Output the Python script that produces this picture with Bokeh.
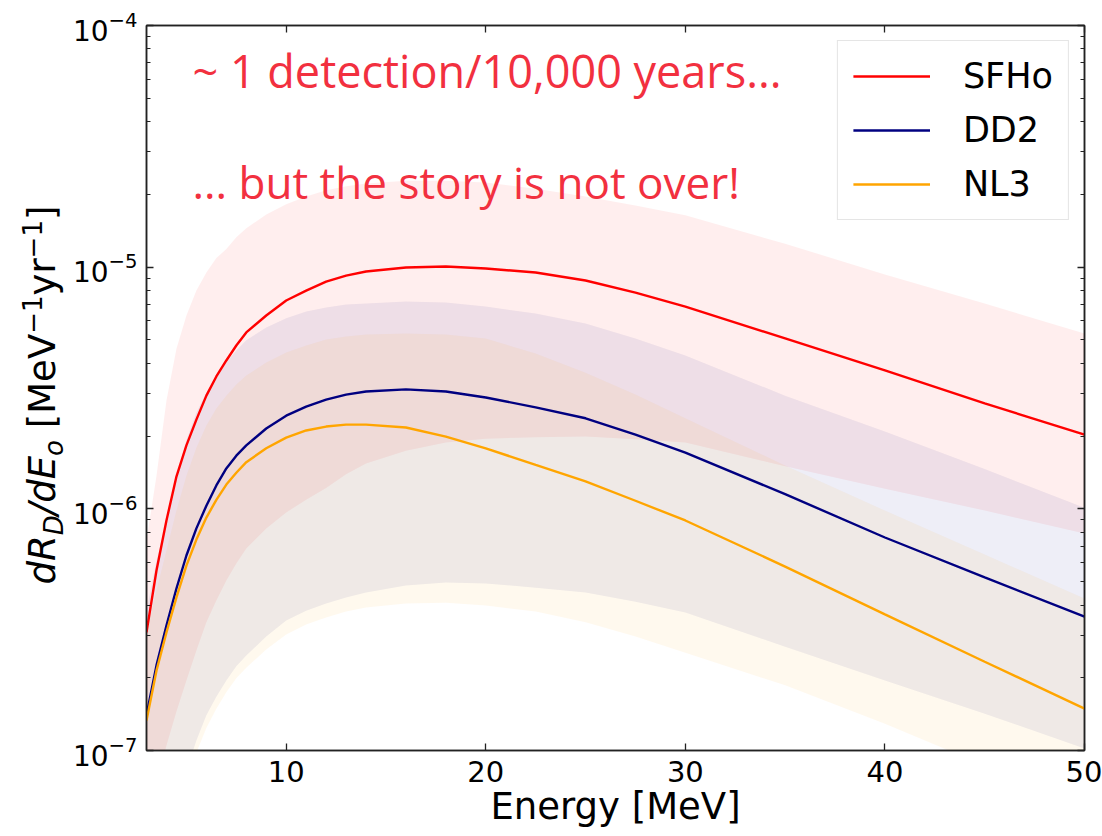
import numpy as np
from bokeh.plotting import figure
from bokeh.layouts import row
from bokeh.core.properties import value
from bokeh.models import (Range1d, FixedTicker, LogTickFormatter, LogAxis, LinearAxis,
                          Label, Legend, LegendItem, CustomJSTickFormatter)
from bokeh.embed import file_html
from bokeh.resources import INLINE

# ---------------- data ----------------
energy = [3, 3.5, 4, 4.5, 5, 5.5, 6, 6.5, 7, 7.5, 8, 9, 10, 11, 12, 13, 14, 16, 18, 20,
          22.5, 25, 27.5, 30, 35, 40, 45, 50]

sfho = [3.08e-7, 5.56e-7, 8.95e-7, 1.36e-6, 1.83e-6, 2.34e-6, 2.94e-6, 3.53e-6, 4.11e-6, 4.74e-6,
        5.37e-6, 6.31e-6, 7.28e-6, 8.0e-6, 8.72e-6, 9.23e-6, 9.60e-6, 9.97e-6, 1.007e-5, 9.87e-6,
        9.50e-6, 8.81e-6, 7.85e-6, 6.87e-6, 5.07e-6, 3.74e-6, 2.73e-6, 2.03e-6]
sfho_hi = [7.4e-7, 1.37e-6, 2.81e-6, 4.6e-6, 6.31e-6, 8.0e-6, 9.5e-6, 1.09e-5, 1.19e-5, 1.33e-5,
           1.45e-5, 1.65e-5, 1.82e-5, 1.96e-5, 2.08e-5, 2.16e-5, 2.22e-5, 2.28e-5, 2.28e-5, 2.24e-5,
           2.11e-5, 1.96e-5, 1.80e-5, 1.64e-5, 1.25e-5, 9.33e-6, 7.08e-6, 5.31e-6]
sfho_lo = [5.1e-8, 7.2e-8, 1.05e-7, 1.45e-7, 1.95e-7, 2.59e-7, 3.39e-7, 4.18e-7, 5.05e-7, 5.94e-7,
           6.85e-7, 8.3e-7, 9.66e-7, 1.09e-6, 1.22e-6, 1.39e-6, 1.54e-6, 1.74e-6, 1.88e-6, 1.95e-6,
           1.98e-6, 1.99e-6, 1.94e-6, 1.88e-6, 1.50e-6, 1.21e-6, 9.84e-7, 7.9e-7]

dd2 = [1.40e-7, 2.25e-7, 3.29e-7, 4.68e-7, 6.41e-7, 8.3e-7, 1.03e-6, 1.25e-6, 1.47e-6, 1.66e-6,
       1.83e-6, 2.15e-6, 2.43e-6, 2.65e-6, 2.83e-6, 2.97e-6, 3.06e-6, 3.12e-6, 3.06e-6, 2.89e-6,
       2.63e-6, 2.37e-6, 2.03e-6, 1.71e-6, 1.15e-6, 7.61e-7, 5.20e-7, 3.58e-7]
dd2_hi = [3.79e-7, 6.1e-7, 8.95e-7, 1.36e-6, 1.92e-6, 2.5e-6, 3.03e-6, 3.56e-6, 4.04e-6, 4.52e-6,
          4.98e-6, 5.63e-6, 6.14e-6, 6.56e-6, 6.81e-6, 7.0e-6, 7.08e-6, 7.21e-6, 7.14e-6, 6.87e-6,
          6.43e-6, 5.85e-6, 5.07e-6, 4.31e-6, 2.94e-6, 2.09e-6, 1.46e-6, 1.01e-6]
dd2_lo = [1.49e-8, 2.9e-8, 4.67e-8, 6.3e-8, 8.26e-8, 1.10e-7, 1.40e-7, 1.67e-7, 1.95e-7, 2.23e-7,
          2.47e-7, 2.96e-7, 3.45e-7, 3.79e-7, 4.06e-7, 4.3e-7, 4.51e-7, 4.82e-7, 4.96e-7, 4.91e-7,
          4.72e-7, 4.51e-7, 4.13e-7, 3.72e-7, 2.69e-7, 1.95e-7, 1.42e-7, 1.02e-7]

nl3 = [1.33e-7, 2.14e-7, 3.08e-7, 4.3e-7, 5.82e-7, 7.46e-7, 9.20e-7, 1.09e-6, 1.26e-6, 1.41e-6,
       1.56e-6, 1.78e-6, 1.97e-6, 2.11e-6, 2.19e-6, 2.23e-6, 2.23e-6, 2.17e-6, 1.99e-6, 1.78e-6,
       1.52e-6, 1.30e-6, 1.08e-6, 8.95e-7, 5.77e-7, 3.66e-7, 2.33e-7, 1.49e-7]
nl3_hi = [3.1e-7, 4.59e-7, 6.72e-7, 9.84e-7, 1.37e-6, 1.79e-6, 2.21e-6, 2.6e-6, 2.94e-6, 3.27e-6,
          3.56e-6, 4.03e-6, 4.43e-6, 4.74e-6, 5.02e-6, 5.16e-6, 5.26e-6, 5.31e-6, 5.26e-6, 5.07e-6,
          4.39e-6, 3.66e-6, 2.97e-6, 2.37e-6, 1.51e-6, 9.84e-7, 6.47e-7, 4.26e-7]
nl3_lo = [1.35e-8, 2.64e-8, 4.24e-8, 5.75e-8, 7.52e-8, 9.8e-8, 1.24e-7, 1.49e-7, 1.74e-7, 1.99e-7,
          2.20e-7, 2.62e-7, 3.02e-7, 3.32e-7, 3.55e-7, 3.76e-7, 3.91e-7, 4.06e-7, 4.09e-7, 3.98e-7,
          3.76e-7, 3.39e-7, 2.96e-7, 2.54e-7, 1.86e-7, 1.29e-7, 8.67e-8, 5.65e-8]

model_names = ["SFHo", "DD2", "NL3"]
model_colors = ["#ff0000", "#000080", "#ffa500"]

x_ticks = [10, 20, 30, 40, 50]
y_ticks = [1e-7, 1e-6, 1e-5, 1e-4]
y_minor = [m * 10.0 ** e for e in (-7, -6, -5) for m in range(2, 10)]

note1 = "~ 1 detection/10,000 years..."
note2 = "... but the story is not over!"
note_color = "#f2303f"

LAB_W = 68          # width of the strip holding the y-axis title
FRAME_LEFT = 146
FRAME_TOP = 25
FRAME_BOTTOM = 750
H = 836

# ---------------- main figure ----------------
p = figure(width=1102 - LAB_W, height=H, x_range=Range1d(3, 50), y_range=Range1d(1e-7, 1e-4),
           y_axis_type="log", output_backend="svg", toolbar_location=None,
           min_border_left=FRAME_LEFT - LAB_W, min_border_right=18, min_border_top=FRAME_TOP,
           min_border_bottom=H - FRAME_BOTTOM)
p.grid.visible = False
p.background_fill_color = "white"
p.border_fill_color = "white"
p.outline_line_color = "#222222"
p.outline_line_width = 1.5

bands = [(sfho_lo, sfho_hi), (dd2_lo, dd2_hi), (nl3_lo, nl3_hi)]
centrals = [sfho, dd2, nl3]
for (lo, hi), c in zip(bands, model_colors):
    p.varea(x=energy, y1=lo, y2=hi, fill_color=c, fill_alpha=0.065)

renderers = []
for vals, c in zip(centrals, model_colors):
    renderers.append(p.line(energy, vals, line_color=c, line_width=2.4))


def style_axis(ax):
    ax.major_tick_in = 7
    ax.major_tick_out = 0
    ax.minor_tick_in = 4
    ax.minor_tick_out = 0
    ax.axis_line_color = "#222222"
    ax.axis_line_width = 1.5
    ax.major_tick_line_color = "#222222"
    ax.major_tick_line_width = 1.3
    ax.minor_tick_line_color = "#222222"
    ax.minor_tick_line_width = 1.1
    ax.major_label_text_font = "DejaVu Sans"
    ax.major_label_text_font_size = "29px"
    ax.major_label_text_color = "black"


xt = FixedTicker(ticks=x_ticks, minor_ticks=[])
yt = FixedTicker(ticks=y_ticks, minor_ticks=y_minor)

xa = p.xaxis[0]
xa.ticker = xt
style_axis(xa)
xa.major_label_standoff = 10
xa.axis_label = "Energy [MeV]"
xa.axis_label_text_font = "DejaVu Sans"
xa.axis_label_text_font_size = "37px"
xa.axis_label_text_font_style = "normal"
xa.axis_label_text_color = "black"
xa.axis_label_standoff = 0

ya = p.yaxis[0]
ya.ticker = yt
ya.formatter = LogTickFormatter()
style_axis(ya)
ya.major_label_text_font_size = "28px"
ya.major_label_standoff = 9

blank = CustomJSTickFormatter(code="return ''")
top = LinearAxis(ticker=xt, formatter=blank, major_label_standoff=0)
style_axis(top)
top.major_label_text_font_size = "0px"
p.add_layout(top, "above")
right = LogAxis(ticker=yt, formatter=blank, major_label_standoff=0)
style_axis(right)
right.major_label_text_font_size = "0px"
p.add_layout(right, "right")

# ---------------- annotations ----------------
for txt, cy, fs in ((note1, 70, "45px"), (note2, 181, "44px")):
    p.add_layout(Label(x=46, y=FRAME_BOTTOM - cy, x_units="screen", y_units="screen",
                       text=txt, text_font="Open Sans", text_font_size=fs,
                       text_color=note_color, text_baseline="alphabetic"))

# ---------------- legend ----------------
legend = Legend(items=[LegendItem(label=n, renderers=[r]) for n, r in zip(model_names, renderers)],
                location="top_right")
legend.label_text_font = "DejaVu Sans"
legend.label_text_font_size = "35px"
legend.label_text_color = "black"
legend.glyph_width = 77
legend.glyph_height = 40
legend.label_height = 40
legend.label_standoff = 33
legend.padding = 15
legend.spacing = 14
legend.margin = 15
legend.border_line_color = "#cccccc"
legend.border_line_width = 1.2
legend.background_fill_color = "white"
legend.background_fill_alpha = 1.0
p.add_layout(legend)

# ---------------- y-axis title strip (composite math-like text) ----------------
# its frame is aligned with the main frame; data coordinates equal canvas pixels
lab = figure(width=LAB_W, height=H, x_range=Range1d(0, LAB_W),
             y_range=Range1d(FRAME_BOTTOM, FRAME_TOP),
             output_backend="svg", toolbar_location=None, x_axis_location=None,
             y_axis_location=None, min_border_left=0, min_border_right=0,
             min_border_top=FRAME_TOP, min_border_bottom=H - FRAME_BOTTOM)
lab.grid.visible = False
lab.outline_line_color = None
lab.background_fill_color = "white"
lab.border_fill_color = "white"

EM = {"d": .635, "R": .695, "D": .770, "/": .337, "E": .632, "o": .612, " ": .318,
      "[": .390, "M": .863, "e": .615, "V": .684, "\u2212": .838, "1": .636,
      "y": .592, "r": .411, "]": .390}
# (text, font size, style, baseline x wanted, gap before)
pieces = [("dR", 37, "italic", 55, 0), ("D", 26, "italic", 63, 0), ("/dE", 37, "italic", 55, 0),
          ("o", 26, "italic", 63, 0), ("[MeV", 37, "normal", 55, 0.318 * 37),
          ("\u22121", 26, "normal", 41, 0), ("yr", 37, "normal", 55, 0),
          ("\u22121", 26, "normal", 41, 0), ("]", 37, "normal", 55, 0)]
pos = 584
for txt, size, style, bx, gap in pieces:
    pos -= gap
    lab.text(x=[bx - 0.35 * size], y=[pos], text=[txt], angle=np.pi / 2,
             text_font=value("DejaVu Sans"), text_font_size=value(f"{size}px"),
             text_font_style=style, text_color="black", text_align="left",
             text_baseline="alphabetic")
    pos -= sum(EM.get(ch, 0.6) for ch in txt) * size

layout = row(lab, p, spacing=0)
open("out.html", "w").write(file_html(layout, INLINE))
